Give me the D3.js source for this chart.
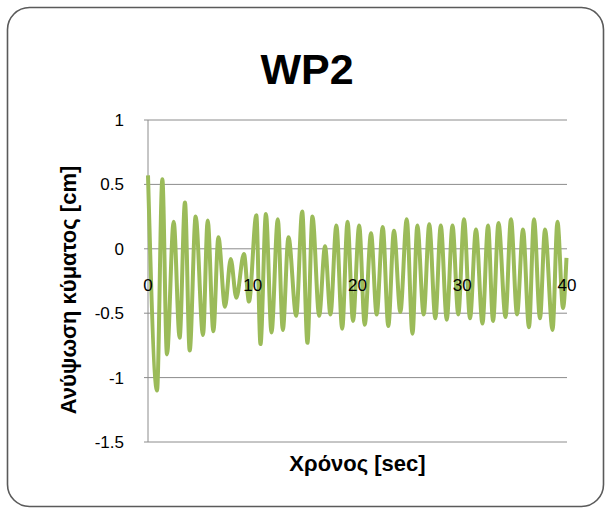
<!DOCTYPE html>
<html>
<head>
<meta charset="utf-8">
<script src="https://cdn.jsdelivr.net/npm/d3@7"></script>
<style>
  body { margin: 0; background: #fff; }
  svg { display: block; }
</style>
</head>
<body>
<div id="chart"></div>
<script>
// WP2 - wave elevation record (peaks / troughs)
var timeSec = [0, 0.86, 1.37, 1.81, 2.45, 3.02, 3.53, 3.98, 4.55, 5.25, 5.70, 6.24, 6.72, 7.35,
    7.90, 8.43, 9.16, 9.64, 10.34, 10.74, 11.26, 11.79, 12.39, 12.87, 13.41, 14.15, 14.72, 15.22,
    15.70, 16.34, 16.90, 17.42, 17.98, 18.54, 19.05, 19.57, 20.16, 20.69, 21.29, 21.83, 22.41, 22.94,
    23.48, 24.09, 24.70, 25.25, 25.71, 26.32, 26.85, 27.43, 27.95, 28.52, 29.07, 29.62, 30.17, 30.74,
    31.31, 31.93, 32.46, 32.94, 33.46, 34.13, 34.65, 35.23, 35.80, 36.37, 36.85, 37.42, 37.90, 38.62,
    39.09, 39.62, 39.95];
var waveCm = [0.57, -1.10, 0.54, -0.82, 0.21, -0.69, 0.36, -0.79, 0.25, -0.67, 0.22, -0.64, 0.09, -0.45,
    -0.08, -0.38, -0.04, -0.41, 0.26, -0.74, 0.27, -0.65, 0.23, -0.63, 0.09, -0.52, 0.29, -0.73,
    0.25, -0.52, 0.02, -0.51, 0.18, -0.62, 0.21, -0.56, 0.18, -0.59, 0.12, -0.51, 0.17, -0.60,
    0.14, -0.49, 0.23, -0.66, 0.18, -0.51, 0.19, -0.54, 0.18, -0.55, 0.18, -0.51, 0.23, -0.54,
    0.15, -0.58, 0.18, -0.56, 0.20, -0.53, 0.23, -0.51, 0.15, -0.61, 0.23, -0.54, 0.15, -0.63,
    0.21, -0.46, -0.07];

var yTicks = [1, 0.5, 0, -0.5, -1, -1.5];
var yTickLabels = ["1", "0.5", "0", "-0.5", "-1", "-1.5"];
var xTicks = [0, 10, 20, 30, 40];

var width = 611, height = 512;
var plot = { left: 148, right: 567, top: 120, bottom: 442 };
var font = "'Liberation Sans', Arial, sans-serif";

var svg = d3.select("#chart").append("svg")
    .attr("width", width)
    .attr("height", height);

// rounded chart frame
svg.append("rect")
    .attr("x", 7.5).attr("y", 7.5)
    .attr("width", 596).attr("height", 499)
    .attr("rx", 22).attr("ry", 22)
    .attr("fill", "#fff")
    .attr("stroke", "#5a5a5a")
    .attr("stroke-width", 1.6);

var x = d3.scaleLinear().domain([0, 40]).range([plot.left, plot.right]);
var y = d3.scaleLinear().domain([-1.5, 1]).range([plot.bottom, plot.top]);

// horizontal gridlines
svg.append("g").selectAll("line")
    .data(yTicks)
    .enter().append("line")
    .attr("x1", plot.left - 4).attr("x2", plot.right)
    .attr("y1", d => y(d)).attr("y2", d => y(d))
    .attr("stroke", "#8c8c8c")
    .attr("stroke-width", 1);

// vertical axis line
svg.append("line")
    .attr("x1", plot.left).attr("x2", plot.left)
    .attr("y1", plot.top).attr("y2", plot.bottom)
    .attr("stroke", "#8c8c8c");

// y tick labels
svg.append("g").selectAll("text")
    .data(yTicks)
    .enter().append("text")
    .attr("x", 124)
    .attr("y", d => y(d) + 6)
    .attr("text-anchor", "end")
    .style("font-family", font)
    .style("font-size", "17px")
    .style("fill", "#000")
    .text((d, i) => yTickLabels[i]);

// wave line
var points = timeSec.map((t, i) => [t, waveCm[i]]);
var line = d3.line()
    .x(d => x(d[0]))
    .y(d => y(d[1]))
    .curve(d3.curveMonotoneX);

svg.append("path")
    .datum(points)
    .attr("d", line)
    .attr("fill", "none")
    .attr("stroke", "#9bbb59")
    .attr("stroke-width", 4)
    .attr("stroke-linejoin", "round");

// x tick labels (axis crosses at 0), drawn on top of the line
svg.append("g").selectAll("text")
    .data(xTicks)
    .enter().append("text")
    .attr("x", d => x(d))
    .attr("y", y(0) + 42)
    .attr("text-anchor", "middle")
    .style("font-family", font)
    .style("font-size", "17px")
    .style("fill", "#000")
    .text(d => d);

// title
svg.append("text")
    .attr("x", 307).attr("y", 84)
    .attr("text-anchor", "middle")
    .style("font-family", font)
    .style("font-weight", "bold")
    .style("font-size", "43px")
    .text("WP2");

// x axis title
svg.append("text")
    .attr("x", (plot.left + plot.right) / 2).attr("y", 471)
    .attr("text-anchor", "middle")
    .style("font-family", font)
    .style("font-weight", "bold")
    .style("font-size", "22px")
    .text("Χρόνος [sec]");

// y axis title
svg.append("text")
    .attr("transform", "translate(76," + 290 + ") rotate(-90)")
    .attr("text-anchor", "middle")
    .style("font-family", font)
    .style("font-weight", "bold")
    .style("font-size", "22px")
    .text("Ανύψωση κύματος [cm]");
</script>
</body>
</html>
